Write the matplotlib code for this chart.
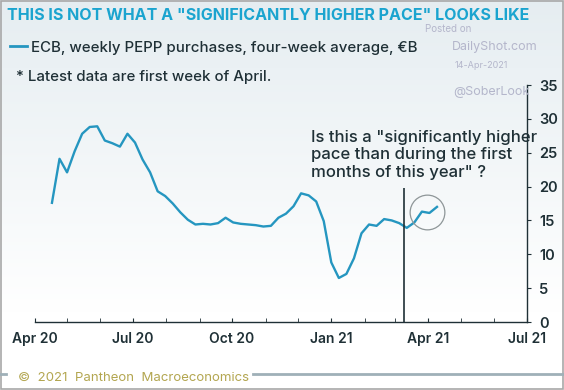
import numpy as np
import pandas as pd
import matplotlib
matplotlib.use("Agg")
import matplotlib.pyplot as plt
import matplotlib.dates as mdates
from matplotlib.lines import Line2D
from matplotlib.patches import Rectangle

# ECB weekly PEPP purchases, four-week average, EUR bn
start_date = "2020-04-17"
pepp = [17.6, 24.1, 22.1, 25.2, 27.8, 28.8, 28.9, 26.8, 26.4, 25.9,
        27.8, 26.5, 24.0, 22.1, 19.3, 18.6, 17.5, 16.2, 15.1, 14.4,
        14.5, 14.4, 14.6, 15.4, 14.7, 14.5, 14.4, 14.3, 14.1, 14.2,
        15.4, 16.0, 17.1, 19.0, 18.7, 17.8, 14.9, 8.8, 6.5, 7.1,
        9.4, 13.1, 14.4, 14.2, 15.2, 15.0, 14.6, 13.9, 14.7, 16.3,
        16.1, 17.0]
dates = pd.date_range(start_date, periods=len(pepp), freq="7D")

ecb_meeting = pd.Timestamp("2021-03-09")
meeting_line_top = 19.8
circle_date = pd.Timestamp("2021-03-31")
circle_value = 16.3

x_ticks = pd.to_datetime(["2020-04-01", "2020-07-01", "2020-10-01",
                          "2021-01-01", "2021-04-01", "2021-07-01"])
x_labels = ["Apr 20", "Jul 20", "Oct 20", "Jan 21", "Apr 21", "Jul 21"]
y_ticks = [0, 5, 10, 15, 20, 25, 30, 35]

LINE = "#2596c0"
DARK = "#1f3036"
FONT = ["Inter", "DejaVu Sans"]

plt.rcParams["font.family"] = FONT

fig = plt.figure(figsize=(5.64, 3.90), dpi=100)

# soft background gradient
bg = fig.add_axes([0, 0, 1, 1], zorder=-10)
grad = np.linspace(0, 1, 256).reshape(-1, 1)
top = np.array([0.90, 0.93, 0.945])
bot = np.array([1.0, 1.0, 1.0])
img = top + (bot - top) * np.clip(grad / 0.8, 0, 1)
bg.imshow(img.reshape(256, 1, 3), aspect="auto", extent=[0, 1, 0, 1])
bg.set_xlim(0, 1)
bg.set_ylim(0, 1)
bg.axis("off")

ax = fig.add_axes([34.7 / 564, 68 / 390, (526.5 - 34.7) / 564, 237 / 390])
ax.set_facecolor("none")
ax.plot(dates, pepp, color=LINE, lw=1.7, solid_joinstyle="round")
ax.vlines(ecb_meeting, 0, meeting_line_top, color=DARK, lw=1.2)
ax.plot([circle_date], [circle_value], marker="o", ms=25, mfc="none",
        mec="#8e9698", mew=0.9)

ax.set_xlim(pd.Timestamp("2020-04-01"), pd.Timestamp("2021-07-01"))
ax.set_ylim(0, 35)
ax.set_xticks(x_ticks)
ax.set_xticklabels(x_labels)
ax.xaxis.set_minor_locator(mdates.MonthLocator())
ax.set_yticks(y_ticks)
ax.yaxis.tick_right()

for side in ["left", "top"]:
    ax.spines[side].set_visible(False)
for side in ["right", "bottom"]:
    ax.spines[side].set_color(DARK)
    ax.spines[side].set_linewidth(1.0)

ax.tick_params(axis="x", which="both", direction="in", length=3,
               color=DARK, labelsize=10, labelcolor=DARK, pad=7)
ax.tick_params(axis="y", direction="out", length=3, color=DARK,
               labelsize=10.5, labelcolor=DARK, pad=6)
for lab in ax.get_xticklabels() + ax.get_yticklabels():
    lab.set_fontweight("semibold")

ax.text(0.561, 0.81, 'Is this a "significantly higher\npace than during the first\nmonths of this year" ?',
        transform=ax.transAxes, fontsize=12, color=DARK,
        va="top", ha="left", linespacing=1.2, fontweight="medium")

# header texts
fig.text(7 / 564, 1 - 16 / 390, 'THIS IS NOT WHAT A "SIGNIFICANTLY HIGHER PACE" LOOKS LIKE',
         color="#1ba4cf", fontsize=11.55, fontweight="bold", va="center")
fig.add_artist(Line2D([10 / 564, 27 / 564], [1 - 46 / 390] * 2,
                      color=LINE, lw=2))
fig.text(31 / 564, 1 - 48 / 390, "ECB, weekly PEPP purchases, four-week average, \u20acB",
         color=DARK, fontsize=10.8, va="center", fontweight="medium")
fig.text(16 / 564, 1 - 77 / 390, "* Latest data are first week of April.",
         color=DARK, fontsize=10.8, va="center", fontweight="medium")

wm = "#b4b6cb"
fig.text(425 / 564, 1 - 29 / 390, "Posted on", color=wm, fontsize=7, va="center")
fig.text(452 / 564, 1 - 47 / 390, "DailyShot.com", color=wm, fontsize=9, va="center")
fig.text(455 / 564, 1 - 66 / 390, "14-Apr-2021", color=wm, fontsize=6.5, va="center")
fig.text(453 / 564, 1 - 92 / 390, "@SoberLook", color=wm, fontsize=9, va="center")

# footer
fy = 1 - 374 / 390
fig.add_artist(Line2D([0, 6 / 564], [fy, fy], color="#9fb0b8", lw=2))
fig.add_artist(Line2D([253 / 564, 1], [fy, fy], color="#9fb0b8", lw=2))
fig.text(18 / 564, 1 - 378 / 390, "\u00a9  2021  Pantheon  Macroeconomics",
         color="#b3a650", fontsize=9.5, va="center")

# outer frame
fig.add_artist(Rectangle((0.5 / 564, 1.5 / 390), 562.5 / 564, 387.5 / 390,
                         fill=False, ec="#a8a8a8", lw=1.2,
                         transform=fig.transFigure))

fig.savefig("out.png", dpi=100)
